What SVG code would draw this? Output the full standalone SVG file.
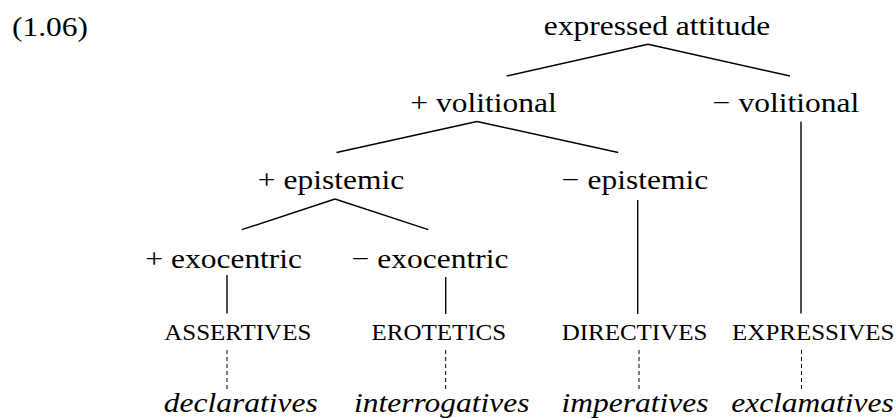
<svg xmlns="http://www.w3.org/2000/svg" width="896" height="418" viewBox="0 0 896 418">
<style>
text{font-family:"Liberation Serif","Times New Roman",serif;fill:#000;text-anchor:middle}
.b{font-size:31.5px}
.c{font-size:25px}
.i{font-size:31.5px;font-style:italic}
.e{line-height:1}
line{stroke:#000;stroke-width:1.4;fill:none}
.d{stroke-width:1;stroke-dasharray:4 3}
</style>
<rect width="896" height="418" fill="#fff"/>
<g id="label"><text class="b" style="text-anchor:start" transform="translate(12,36) scale(1,0.9)">(1.06)</text></g>
<g id="connectors">
<line x1="648" y1="44.3" x2="506.7" y2="76"/>
<line x1="648" y1="44.3" x2="790" y2="76"/>
<line x1="477" y1="121.5" x2="336.5" y2="152.5"/>
<line x1="477" y1="121.5" x2="618.3" y2="152.5"/>
<line x1="801" y1="121.7" x2="801" y2="313.5"/>
<line x1="335" y1="199" x2="241.7" y2="229.7"/>
<line x1="335" y1="199" x2="428.3" y2="229.7"/>
<line x1="637.7" y1="200" x2="637.7" y2="314"/>
<line x1="227" y1="275" x2="227" y2="313.5"/>
<line x1="445.7" y1="277" x2="445.7" y2="314"/>
<line class="d" x1="227" y1="350" x2="227" y2="389"/>
<line class="d" x1="445.7" y1="350" x2="445.7" y2="389"/>
<line class="d" x1="639" y1="350" x2="639" y2="389"/>
<line class="d" x1="801.5" y1="350" x2="801.5" y2="389"/>
</g>
<g id="n-root"><text class="b" transform="translate(657,35) scale(1,0.9)">expressed attitude</text></g>
<g id="n-pvol"><text class="b" transform="translate(483.5,112) scale(1,0.9)">+ volitional</text></g>
<g id="n-mvol"><text class="b" transform="translate(786,112) scale(1,0.9)">− volitional</text></g>
<g id="n-pepi"><text class="b" transform="translate(331,188.5) scale(1,0.9)">+ epistemic</text></g>
<g id="n-mepi"><text class="b" transform="translate(635,188.5) scale(1,0.9)">− epistemic</text></g>
<g id="n-pexo"><text class="b" transform="translate(223.7,268.3) scale(1,0.9)">+ exocentric</text></g>
<g id="n-mexo"><text class="b" transform="translate(430,268.3) scale(1,0.9)">− exocentric</text></g>
<g id="n-assert"><text class="c" transform="translate(237.8,340) scale(1,0.9)">ASSERTIVES</text></g>
<g id="n-erot"><text class="c" transform="translate(438.8,340) scale(1,0.9)">EROTETICS</text></g>
<g id="n-dir"><text class="c" transform="translate(634.5,340) scale(1,0.9)">DIRECTIVES</text></g>
<g id="n-expr"><text class="c" transform="translate(813.3,340) scale(1,0.9)">EXPRESSIVES</text></g>
<g id="n-decl"><text class="i" transform="translate(240.8,412) scale(1,0.9)">declaratives</text></g>
<g id="n-interr"><text class="i" transform="translate(441.7,412) scale(1,0.9)">interrogatives</text></g>
<g id="n-imper"><text class="i" transform="translate(635,412) scale(1,0.9)">imperatives</text></g>
<g id="n-excl"><text class="i" transform="translate(812.5,412) scale(1,0.9)">exclamatives</text></g>
</svg>
